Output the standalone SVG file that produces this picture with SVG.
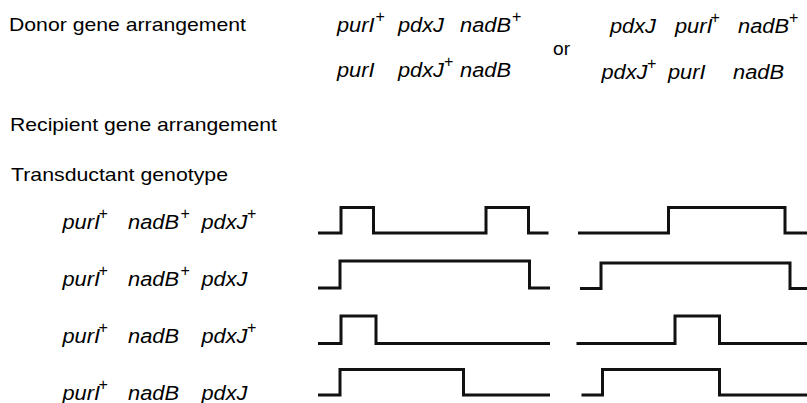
<svg xmlns="http://www.w3.org/2000/svg" width="807" height="403" viewBox="0 0 807 403">
<style>
.t{font-family:"Liberation Sans",Arial,sans-serif;font-size:19px;fill:#000}
.g{font-family:"Liberation Sans",Arial,sans-serif;font-size:19.5px;font-style:italic;fill:#000}
.s{font-family:"Liberation Sans",Arial,sans-serif;font-size:16px;fill:#000}
.w{fill:none;stroke:#111;stroke-width:3;stroke-linejoin:miter;stroke-linecap:butt}
</style>
<rect width="807" height="403" fill="#fff"/>
<g id="headings">
<text class="t" x="9" y="31" textLength="237" lengthAdjust="spacingAndGlyphs">Donor gene arrangement</text>
<text class="t" x="10" y="130.5" textLength="267" lengthAdjust="spacingAndGlyphs">Recipient gene arrangement</text>
<text class="t" x="11" y="180.5" textLength="217" lengthAdjust="spacingAndGlyphs">Transductant genotype</text>
</g>
<g id="donor-a">
<text class="g" x="337" y="32" textLength="37.5" lengthAdjust="spacingAndGlyphs">purI</text>
<text class="s" x="375.5" y="22">+</text>
<text class="g" x="398" y="32" textLength="46" lengthAdjust="spacingAndGlyphs">pdxJ</text>
<text class="g" x="460" y="32" textLength="51" lengthAdjust="spacingAndGlyphs">nadB</text>
<text class="s" x="512" y="22">+</text>
<text class="g" x="337" y="77" textLength="37.5" lengthAdjust="spacingAndGlyphs">purI</text>
<text class="g" x="398" y="77" textLength="46" lengthAdjust="spacingAndGlyphs">pdxJ</text>
<text class="s" x="444" y="67">+</text>
<text class="g" x="460" y="77" textLength="51" lengthAdjust="spacingAndGlyphs">nadB</text>
</g>
<g id="or">
<text class="t" x="553" y="55" textLength="17" lengthAdjust="spacingAndGlyphs">or</text>
</g>
<g id="donor-b">
<text class="g" x="610" y="33" textLength="46" lengthAdjust="spacingAndGlyphs">pdxJ</text>
<text class="g" x="675" y="33" textLength="37.5" lengthAdjust="spacingAndGlyphs">purI</text>
<text class="s" x="710.5" y="23">+</text>
<text class="g" x="738" y="33" textLength="51" lengthAdjust="spacingAndGlyphs">nadB</text>
<text class="s" x="789" y="23">+</text>
<text class="g" x="601.5" y="79" textLength="46" lengthAdjust="spacingAndGlyphs">pdxJ</text>
<text class="s" x="647" y="69">+</text>
<text class="g" x="668" y="79" textLength="37.5" lengthAdjust="spacingAndGlyphs">purI</text>
<text class="g" x="733" y="79" textLength="51" lengthAdjust="spacingAndGlyphs">nadB</text>
</g>
<g id="genotype-1">
<text class="g" x="62.5" y="228.5" textLength="37.5" lengthAdjust="spacingAndGlyphs">purI</text>
<text class="s" x="98.5" y="218.5">+</text>
<text class="g" x="128" y="228.5" textLength="51" lengthAdjust="spacingAndGlyphs">nadB</text>
<text class="s" x="180.5" y="218.5">+</text>
<text class="g" x="201.5" y="228.5" textLength="46" lengthAdjust="spacingAndGlyphs">pdxJ</text>
<text class="s" x="247" y="218.5">+</text>
</g>
<g id="genotype-2">
<text class="g" x="62.5" y="285.5" textLength="37.5" lengthAdjust="spacingAndGlyphs">purI</text>
<text class="s" x="98.5" y="275.5">+</text>
<text class="g" x="128" y="285.5" textLength="51" lengthAdjust="spacingAndGlyphs">nadB</text>
<text class="s" x="180.5" y="275.5">+</text>
<text class="g" x="201.5" y="285.5" textLength="46" lengthAdjust="spacingAndGlyphs">pdxJ</text>
</g>
<g id="genotype-3">
<text class="g" x="62.5" y="342.5" textLength="37.5" lengthAdjust="spacingAndGlyphs">purI</text>
<text class="s" x="98.5" y="332.5">+</text>
<text class="g" x="128" y="342.5" textLength="51" lengthAdjust="spacingAndGlyphs">nadB</text>
<text class="g" x="201.5" y="342.5" textLength="46" lengthAdjust="spacingAndGlyphs">pdxJ</text>
<text class="s" x="247" y="332.5">+</text>
</g>
<g id="genotype-4">
<text class="g" x="62.5" y="399.5" textLength="37.5" lengthAdjust="spacingAndGlyphs">purI</text>
<text class="s" x="98.5" y="389.5">+</text>
<text class="g" x="128" y="399.5" textLength="51" lengthAdjust="spacingAndGlyphs">nadB</text>
<text class="g" x="201.5" y="399.5" textLength="46" lengthAdjust="spacingAndGlyphs">pdxJ</text>
</g>
<g id="crossovers">
<path class="w" d="M318,233 H341 V207.5 H373.5 V233 H486 V207.5 H528.5 V233 H548.5"/>
<path class="w" d="M578,233 H668.5 V207.5 H785 V233 H807"/>
<path class="w" d="M318,288 H340 V261 H529.5 V288 H550"/>
<path class="w" d="M580,288.5 H601 V263 H790 V288.5 H807"/>
<path class="w" d="M318,343.5 H341 V316 H376 V343.5 H550"/>
<path class="w" d="M576.5,343.5 H675 V316 H719.5 V343.5 H807"/>
<path class="w" d="M318,395 H340 V369.5 H463.5 V395 H550"/>
<path class="w" d="M581.5,395 H602.5 V369.5 H719.5 V395 H807"/>
</g>
</svg>
